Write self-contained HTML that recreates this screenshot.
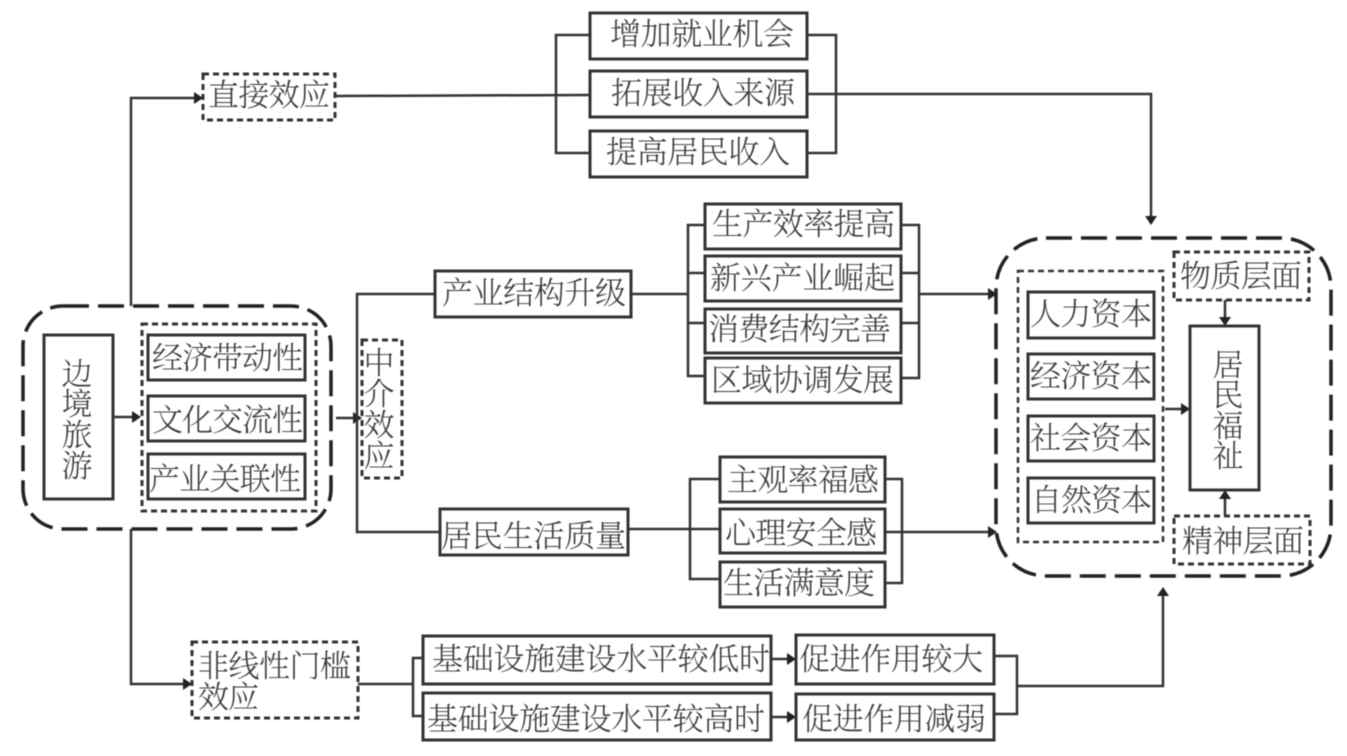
<!DOCTYPE html>
<html lang="zh"><head><meta charset="utf-8"><style>
html,body{margin:0;padding:0;background:#fff;width:1347px;height:756px;overflow:hidden}
svg{display:block;filter:blur(0.45px)}
text{font-family:"Liberation Serif","Noto Serif CJK SC",serif;font-size:31px;fill:#3a3a3a;font-weight:300}
.b{fill:#fff;stroke:#333;stroke-width:3}
.l{fill:none;stroke:#333;stroke-width:2.5}
.d{fill:#fff;stroke:#333;stroke-width:3;stroke-dasharray:6 4}
.o{fill:none;stroke:#222;stroke-width:3.5;stroke-dasharray:26 9}
.a{fill:#222}
</style></head><body>
<svg width="1347" height="756" viewBox="0 0 1347 756" xmlns="http://www.w3.org/2000/svg">
<rect width="1347" height="756" fill="#fff"/>
<!-- connectors -->
<path class="l" d="M131 306V98H195"/><path class="a" d="M194 92l9 6-9 6z"/>
<path class="l" d="M131 529V684H183"/><path class="a" d="M183 678l9 6-9 6z"/>
<path class="l" d="M335 96L590 95M590 35H556V153H590M807 35H836V153H807M807 94H1151V216"/><path class="a" d="M1145 216l6 9 6-9z"/>
<path class="l" d="M336 418H354"/><path class="a" d="M353 412l9 6-9 6z"/>
<path class="l" d="M435 294H357V532H440"/>
<path class="l" d="M631 294H688M705 225H688V376H705M705 273H688M705 323H688M901 225H919V378H901M901 273H919M901 323H919M919 294H989"/><path class="a" d="M988 288l9 6-9 6z"/>
<path class="l" d="M628 529H720M720 479H690V579H720M885 479H902V583H885M885 532H989"/><path class="a" d="M988 526l9 6-9 6z"/>
<path class="l" d="M358 684H413M423 658H413V716H423"/>
<path class="l" d="M771 659H788M771 717H788"/><path class="a" d="M787 653l9 6-9 6zM787 711l9 6-9 6z"/>
<path class="l" d="M994 656H1017V714H994M1017 686H1163V596"/><path class="a" d="M1157 596l6-9 6 9z"/>
<path class="l" d="M113 417H133"/><path class="a" d="M132 411l9 6-9 6z"/>
<path class="l" d="M1165 409H1182"/><path class="a" d="M1181 403l9 6-9 6z"/>
<path class="l" d="M1225 300V318M1225 516V498"/><path class="a" d="M1219 317l6 9 6-9zM1219 499l6-9 6 9z"/>
<!-- outer dashed -->
<rect class="o" x="23" y="306" width="308" height="223" rx="40"/>
<rect class="o" x="996" y="238" width="335" height="338" rx="50"/>
<!-- left group -->
<rect class="b" x="44" y="335" width="69" height="164"/>
<rect class="d" x="142" y="324" width="174" height="187"/>
<rect class="b" x="148" y="335" width="157" height="45"/>
<rect class="b" x="148" y="396" width="157" height="45"/>
<rect class="b" x="148" y="454" width="157" height="45"/>
<rect class="d" x="362" y="340" width="40" height="138"/>
<text x="77" y="385" text-anchor="middle">边</text><text x="77" y="415" text-anchor="middle">境</text><text x="77" y="446" text-anchor="middle">旅</text><text x="77" y="477" text-anchor="middle">游</text>
<text x="152" y="369" textLength="151">经济带动性</text>
<text x="152" y="431" textLength="151">文化交流性</text>
<text x="149" y="490" textLength="152">产业关联性</text>
<text x="379" y="374" text-anchor="middle">中</text><text x="379" y="405" text-anchor="middle">介</text><text x="379" y="436" text-anchor="middle">效</text><text x="379" y="467" text-anchor="middle">应</text>
<!-- direct -->
<rect class="d" x="203" y="74" width="132" height="46"/>
<text x="208" y="106" textLength="122">直接效应</text>
<rect class="b" x="590" y="13" width="217" height="46"/><text x="610" y="45" textLength="184">增加就业机会</text>
<rect class="b" x="590" y="71" width="217" height="46"/><text x="611" y="104" textLength="184">拓展收入来源</text>
<rect class="b" x="590" y="131" width="217" height="46"/><text x="606" y="163" textLength="184">提高居民收入</text>
<!-- mid -->
<rect class="b" x="435" y="271" width="196" height="46"/><text x="442" y="304" textLength="184">产业结构升级</text>
<rect class="b" x="440" y="509" width="188" height="46"/><text x="441" y="547" textLength="185">居民生活质量</text>
<rect class="b" x="705" y="204" width="196" height="45"/><text x="712" y="235" textLength="183">生产效率提高</text>
<rect class="b" x="705" y="256" width="196" height="45"/><text x="710" y="289" textLength="185">新兴产业崛起</text>
<rect class="b" x="705" y="309" width="196" height="44"/><text x="708" y="340" textLength="183">消费结构完善</text>
<rect class="b" x="705" y="358" width="196" height="45"/><text x="711" y="391" textLength="183">区域协调发展</text>
<rect class="b" x="720" y="457" width="165" height="45"/><text x="727" y="491" textLength="152">主观率福感</text>
<rect class="b" x="720" y="509" width="165" height="44"/><text x="725" y="544" textLength="152">心理安全感</text>
<rect class="b" x="720" y="562" width="165" height="45"/><text x="723" y="594" textLength="152">生活满意度</text>
<!-- right -->
<rect class="d" x="1018" y="271" width="145" height="271" style="stroke-width:2.5"/>
<rect class="b" x="1028" y="292" width="126" height="46"/><text x="1030" y="325" textLength="122">人力资本</text>
<rect class="b" x="1028" y="354" width="126" height="45"/><text x="1030" y="387" textLength="122">经济资本</text>
<rect class="b" x="1028" y="416" width="126" height="45"/><text x="1030" y="449" textLength="122">社会资本</text>
<rect class="b" x="1028" y="478" width="126" height="45"/><text x="1031" y="511" textLength="121">自然资本</text>
<rect class="b" x="1190" y="326" width="69" height="164"/>
<text x="1228" y="376" text-anchor="middle">居</text><text x="1228" y="406" text-anchor="middle">民</text><text x="1228" y="437" text-anchor="middle">福</text><text x="1228" y="467" text-anchor="middle">祉</text>
<rect class="d" x="1174" y="252" width="135" height="48"/><text x="1180" y="287" textLength="122">物质层面</text>
<rect class="d" x="1174" y="516" width="136" height="48"/><text x="1182" y="552" textLength="122">精神层面</text>
<!-- threshold -->
<rect class="d" x="192" y="642" width="166" height="76"/>
<text x="198" y="677" textLength="153">非线性门槛</text>
<text x="198" y="708" textLength="61">效应</text>
<rect class="b" x="423" y="636" width="348" height="48"/><text x="432" y="670" textLength="338">基础设施建设水平较低时</text>
<rect class="b" x="423" y="693" width="348" height="47"/><text x="427" y="730" textLength="338">基础设施建设水平较高时</text>
<rect class="b" x="796" y="635" width="198" height="49"/><text x="799" y="670" textLength="184">促进作用较大</text>
<rect class="b" x="796" y="694" width="198" height="46"/><text x="802" y="730" textLength="184">促进作用减弱</text>
</svg>
</body></html>
